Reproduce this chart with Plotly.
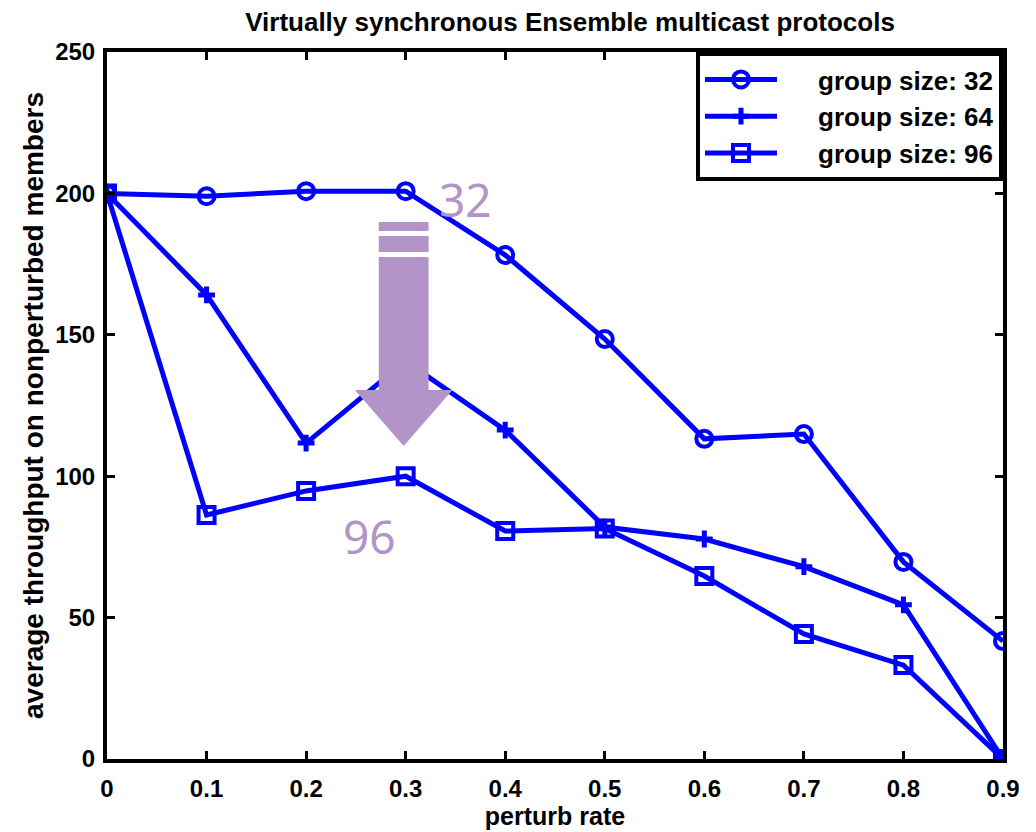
import plotly.graph_objects as go

perturb_rate = [0, 0.1, 0.2, 0.3, 0.4, 0.5, 0.6, 0.7, 0.8, 0.9]
group32 = [200, 199, 200.8, 200.8, 178.2, 148.5, 113.2, 114.9, 69.7, 41.7]
group64 = [200, 164.1, 111.7, 140.7, 116.3, 82.0, 77.8, 68.0, 54.5, 0]
group96 = [200, 86.3, 94.8, 100.0, 80.6, 81.5, 64.7, 44.2, 33.2, 0]
series_names = ["group size: 32", "group size: 64", "group size: 96"]
x_ticks = [0, 0.1, 0.2, 0.3, 0.4, 0.5, 0.6, 0.7, 0.8, 0.9]
y_ticks = [0, 50, 100, 150, 200, 250]

BLUE = "#0000ff"
PURPLE = "#b294c8"
FONT = "Arial, Liberation Sans, sans-serif"

fig = go.Figure()
markers = [("circle-open", 16, 4), ("cross-thin-open", 12, 5), ("square-open", 16, 4)]
for ys, name, (sym, size, lw) in zip([group32, group64, group96], series_names, markers):
    fig.add_trace(go.Scatter(
        x=perturb_rate, y=ys, mode="lines+markers",
        name="\u00a0" * 5 + name,
        line=dict(color=BLUE, width=5),
        marker=dict(symbol=sym, size=size, color=BLUE, line=dict(color=BLUE, width=lw)),
    ))

# arrow annotation (data coordinates)
arrow_x_center = 0.298
shaft_half = 0.025
head_half = 0.049
stripe1 = (186.7, 189.9)
stripe2 = (179.3, 184.9)
shaft = (130.5, 177.5)
tip_y = 110.7

def rect(x0, x1, y0, y1):
    fig.add_shape(type="rect", x0=x0, x1=x1, y0=y0, y1=y1, xref="x", yref="y",
                  fillcolor=PURPLE, line=dict(width=0), layer="above")

rect(arrow_x_center - shaft_half, arrow_x_center + shaft_half, *stripe1)
rect(arrow_x_center - shaft_half, arrow_x_center + shaft_half, *stripe2)
rect(arrow_x_center - shaft_half, arrow_x_center + shaft_half, *shaft)
fig.add_shape(type="path", xref="x", yref="y",
              path=f"M {arrow_x_center - head_half},{shaft[0]} L {arrow_x_center + head_half},{shaft[0]} L {arrow_x_center},{tip_y} Z",
              fillcolor=PURPLE, line=dict(width=0), layer="above")

fig.add_annotation(x=0.36, y=198, text="32", showarrow=False, xref="x", yref="y",
                   font=dict(family="Noto Sans, DejaVu Sans, sans-serif", size=46, color=PURPLE))
fig.add_annotation(x=0.264, y=79, text="96", showarrow=False, xref="x", yref="y",
                   font=dict(family="Noto Sans, DejaVu Sans, sans-serif", size=46, color=PURPLE))

axis_common = dict(
    showline=True, linecolor="black", linewidth=4, mirror="ticks",
    ticks="inside", ticklen=8, tickwidth=3, tickcolor="black",
    showgrid=False, zeroline=False,
    tickfont=dict(family=FONT, size=24, color="black", weight="bold"),
)

fig.update_layout(
    width=1036, height=832,
    margin=dict(l=99, r=41, t=44, b=81),
    paper_bgcolor="white", plot_bgcolor="white",
    title=dict(text="<b>Virtually synchronous Ensemble multicast protocols</b>",
               x=0.5425, xanchor="center", y=0.983, yanchor="middle",
               font=dict(family=FONT, size=26, color="black")),
    xaxis=dict(range=[0, 0.9], tickvals=x_ticks, ticktext=[str(t) for t in x_ticks],
               ticklabelstandoff=5,
               title=dict(text="<b>perturb rate</b>", font=dict(family=FONT, size=25, color="black"), standoff=4),
               **axis_common),
    yaxis=dict(range=[0, 250], tickvals=y_ticks, ticklabelstandoff=3,
               title=dict(text="<b>average throughput on nonperturbed members</b>",
                          font=dict(family=FONT, size=28, color="black"), standoff=4),
               **axis_common),
    legend=dict(x=1, y=1, xanchor="right", yanchor="top",
                bgcolor="white", bordercolor="black", borderwidth=4,
                font=dict(family=FONT, size=26, color="black", weight="bold"),
                tracegroupgap=0, itemwidth=72),
    showlegend=True,
)

fig.write_html("out.html")
